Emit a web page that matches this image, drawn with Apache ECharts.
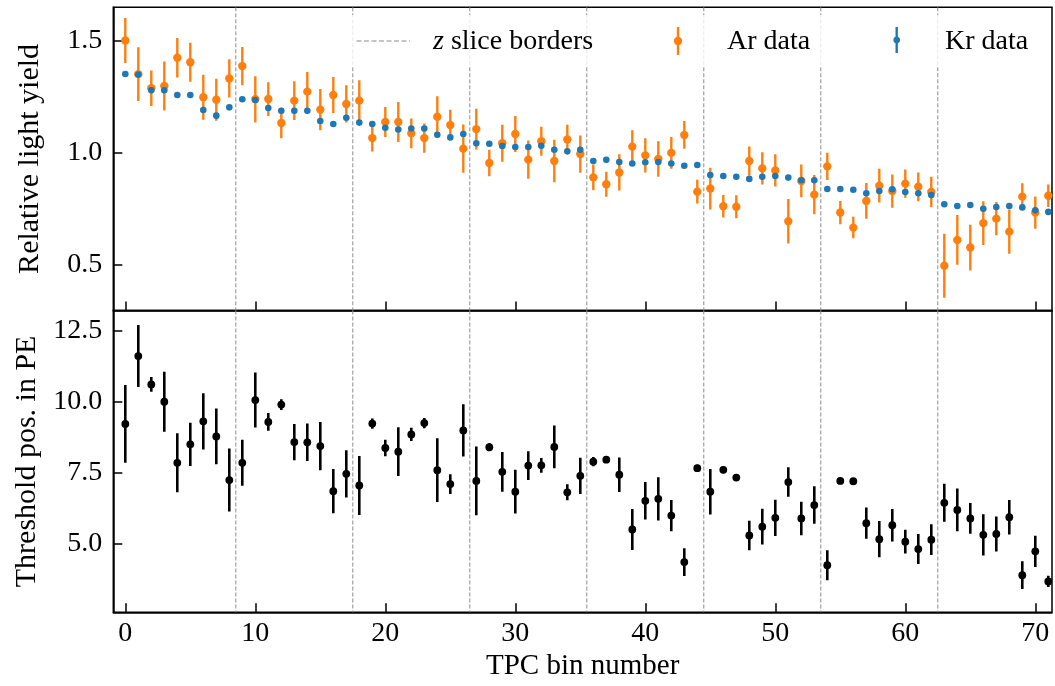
<!DOCTYPE html>
<html>
<head>
<meta charset="utf-8">
<script src="https://cdn.jsdelivr.net/npm/echarts@6/dist/echarts.min.js"></script>
<style>html,body{margin:0;padding:0;background:#fff}#c{width:1055px;height:686px}</style>
</head>
<body>
<div id="c"></div>
<script>
const bins = [0,1,2,3,4,5,6,7,8,9,10,11,12,13,14,15,16,17,18,19,20,21,22,23,24,25,26,27,28,29,30,31,32,33,34,35,
  36,37,38,39,40,41,42,43,44,45,46,47,48,49,50,51,52,53,54,55,56,57,58,59,60,61,62,63,64,65,66,67,68,69,70,71];
const sliceBorders = [8.5,17.5,26.5,35.5,44.5,53.5,62.5];
const xTicks = [0,10,20,30,40,50,60,70];
const topTicks = [0.5,1.0,1.5];
const bottomTicks = [5.0,7.5,10.0,12.5];

const arY = [1.50,1.35,1.287,1.297,1.423,1.403,1.247,1.236,1.331,1.386,
  1.238,1.239,1.132,1.232,1.272,1.192,1.257,1.217,1.232,1.065,
  1.137,1.137,1.086,1.065,1.160,1.123,1.018,1.105,0.954,1.042,
  1.083,0.969,1.051,0.963,1.059,0.994,0.890,0.859,0.912,1.027,
  0.988,0.972,0.999,1.079,0.826,0.840,0.761,0.759,0.963,0.930,
  0.921,0.694,0.874,0.813,0.939,0.733,0.666,0.785,0.853,0.829,
  0.862,0.848,0.825,0.496,0.611,0.577,0.686,0.706,0.648,0.804,
  0.733,0.808];
const arErr = [0.10,0.12,0.079,0.109,0.088,0.087,0.10,0.094,0.085,0.085,
  0.103,0.075,0.068,0.086,0.088,0.092,0.08,0.083,0.091,0.06,
  0.067,0.089,0.066,0.065,0.091,0.068,0.108,0.091,0.059,0.083,
  0.08,0.085,0.065,0.095,0.066,0.083,0.057,0.056,0.081,0.073,
  0.076,0.079,0.071,0.062,0.053,0.093,0.05,0.051,0.065,0.072,
  0.072,0.099,0.073,0.088,0.061,0.052,0.048,0.08,0.075,0.074,
  0.063,0.064,0.068,0.143,0.111,0.102,0.097,0.074,0.099,0.06,
  0.072,0.05];
const krY = [1.351,1.348,1.278,1.278,1.257,1.257,1.190,1.165,1.202,1.238,
  1.235,1.199,1.187,1.187,1.187,1.141,1.128,1.156,1.134,1.128,
  1.111,1.103,1.108,1.108,1.080,1.068,1.083,1.042,1.040,1.030,
  1.025,1.025,1.031,1.013,1.006,1.013,0.963,0.968,0.958,0.952,
  0.957,0.958,0.952,0.942,0.945,0.900,0.896,0.893,0.883,0.893,
  0.896,0.889,0.877,0.877,0.838,0.838,0.835,0.819,0.829,0.837,
  0.825,0.819,0.811,0.770,0.762,0.767,0.750,0.758,0.762,0.756,
  0.743,0.736];
const krErr = [0.006,0.006,0.006,0.006,0.006,0.006,0.006,0.006,0.006,0.006,
  0.006,0.006,0.006,0.006,0.006,0.006,0.006,0.006,0.006,0.006,
  0.006,0.006,0.006,0.006,0.006,0.006,0.006,0.006,0.006,0.006,
  0.006,0.006,0.006,0.006,0.006,0.006,0.006,0.006,0.006,0.006,
  0.006,0.006,0.006,0.006,0.006,0.006,0.006,0.006,0.006,0.006,
  0.006,0.006,0.006,0.006,0.006,0.006,0.006,0.006,0.006,0.006,
  0.006,0.006,0.006,0.006,0.006,0.006,0.006,0.006,0.006,0.006,
  0.006,0.006];
const thrY = [9.23,11.62,10.62,10.01,7.86,8.51,9.32,8.79,7.25,7.86,
  10.07,9.30,9.91,8.59,8.58,8.45,6.86,7.47,7.06,9.24,
  8.38,8.25,8.86,9.26,7.60,7.11,9.00,7.22,8.41,7.54,
  6.84,7.76,7.77,8.42,6.82,7.40,7.90,7.97,7.44,5.51,
  6.52,6.59,6.00,4.36,7.67,6.84,7.61,7.34,5.30,5.61,
  5.92,7.18,5.90,6.37,4.25,7.22,7.21,5.73,5.17,5.66,
  5.08,4.82,5.15,6.45,6.20,5.90,5.32,5.35,5.94,3.90,
  4.74,3.68];
const thrErr = [1.37,1.09,0.26,1.06,1.04,0.76,0.99,0.98,1.11,0.81,
  0.97,0.31,0.19,0.64,0.66,0.85,0.78,0.83,1.04,0.18,
  0.29,0.86,0.23,0.18,1.12,0.35,0.92,1.21,0.14,0.70,
  0.77,0.51,0.26,0.75,0.28,0.64,0.16,0.10,0.61,0.72,
  0.66,0.76,0.55,0.49,0.12,0.80,0.12,0.12,0.52,0.63,
  0.64,0.52,0.59,0.66,0.53,0.10,0.10,0.55,0.64,0.57,
  0.42,0.53,0.54,0.67,0.75,0.54,0.73,0.62,0.61,0.49,
  0.55,0.20];

const ORANGE = '#ff7f0e', BLUE = '#1f77b4', BLACK = '#000000', GREY = '#8c8c8c';
const FONT = "'Liberation Serif', 'DejaVu Serif', serif";

function errSeries(name, gi, vals, errs, color, r, lw, z) {
  return {
    type: 'custom', name: name, xAxisIndex: gi, yAxisIndex: gi, z: z, clip: true,
    data: vals.map((v, i) => [bins[i], v, errs[i]]),
    encode: { x: 0, y: 1 },
    renderItem: function (params, api) {
      const x = api.value(0), y = api.value(1), e = api.value(2);
      const p = api.coord([x, y]);
      const lo = api.coord([x, y - e]), hi = api.coord([x, y + e]);
      return { type: 'group', children: [
        { type: 'line', shape: { x1: lo[0], y1: lo[1], x2: hi[0], y2: hi[1] }, style: { stroke: color, lineWidth: lw } },
        { type: 'circle', shape: { cx: p[0], cy: p[1], r: r }, style: { fill: color } }
      ]};
    }
  };
}
function borderSeries(gi) {
  return {
    type: 'custom', name: 'z slice borders', xAxisIndex: gi, yAxisIndex: gi, z: 1, silent: true,
    data: sliceBorders.map(b => [b]),
    encode: { x: 0 },
    renderItem: function (params, api) {
      const cs = params.coordSys;
      const x = api.coord([api.value(0), 0])[0];
      return { type: 'line', shape: { x1: x, y1: cs.y, x2: x, y2: cs.y + cs.height },
        style: { stroke: GREY, lineWidth: 1, lineDash: [4, 2] } };
    }
  };
}
function xAxisDef(gi, showLabels) {
  return {
    type: 'value', gridIndex: gi, min: -0.923, max: 71.285,
    name: showLabels ? 'TPC bin number' : '', nameLocation: 'middle', nameGap: 40,
    nameTextStyle: { fontFamily: FONT, fontSize: 29, color: '#000' },
    axisLine: { show: true, onZero: false, lineStyle: { color: '#000', width: 1.5 } },
    axisTick: { show: true, inside: true, length: 9, customValues: xTicks, lineStyle: { color: '#000', width: 1.5 } },
    axisLabel: { show: showLabels, customValues: xTicks, margin: 7, fontFamily: FONT, fontSize: 28, color: '#000' },
    splitLine: { show: false }
  };
}
function yAxisDef(gi, min, max, ticks, name) {
  return {
    type: 'value', gridIndex: gi, min: min, max: max,
    name: name, nameLocation: 'middle', nameGap: 68, nameRotate: 90,
    nameTextStyle: { fontFamily: FONT, fontSize: 30, color: '#000' },
    axisLine: { show: true, onZero: false, lineStyle: { color: '#000', width: 1.5 } },
    axisTick: { show: true, inside: true, length: 9, customValues: ticks, lineStyle: { color: '#000', width: 1.5 } },
    axisLabel: { show: true, customValues: ticks, margin: 11, fontFamily: FONT, fontSize: 28, color: '#000',
      formatter: v => Number(v).toFixed(1) },
    splitLine: { show: false }
  };
}

const chart = echarts.init(document.getElementById('c'), null, { renderer: 'canvas' });
chart.setOption({
  backgroundColor: '#fff',
  animation: false,
  grid: [
    { left: 113.3, top: 7.3, width: 938.7, height: 303.2, show: true, borderColor: '#000', borderWidth: 1.5, backgroundColor: 'transparent' },
    { left: 113.3, top: 310.5, width: 938.7, height: 301.8, show: true, borderColor: '#000', borderWidth: 1.5, backgroundColor: 'transparent' }
  ],
  xAxis: [xAxisDef(0, false), xAxisDef(1, true)],
  yAxis: [
    yAxisDef(0, 0.2965, 1.648, topTicks, 'Relative light yield'),
    yAxisDef(1, 2.592, 13.225, bottomTicks, 'Threshold pos. in PE')
  ],
  series: [
    borderSeries(0),
    borderSeries(1),
    errSeries('Ar data', 0, arY, arErr, ORANGE, 4.2, 2.4, 3),
    errSeries('Kr data', 0, krY, krErr, BLUE, 3.3, 2.0, 4),
    errSeries('Threshold', 1, thrY, thrErr, BLACK, 3.9, 2.6, 3)
  ],
  graphic: [
    { type: 'rect', z: 50, silent: true, shape: { x: 343, y: 15, width: 703, height: 52 }, style: { fill: 'rgba(255,255,255,0.8)' } },
    { type: 'line', z: 51, silent: true, shape: { x1: 356.5, y1: 41, x2: 410, y2: 41 }, style: { stroke: GREY, lineWidth: 1.2, lineDash: [5, 2.5] } },
    { type: 'text', z: 51, silent: true, style: { x: 433, y: 42, text: '{i|z} slice borders', font: "28px 'Liberation Serif', serif", fill: '#000', verticalAlign: 'middle',
        rich: { i: { fontStyle: 'italic', fontFamily: 'Liberation Serif', fontSize: 28 } } } },
    { type: 'line', z: 51, silent: true, shape: { x1: 678, y1: 27, x2: 678, y2: 55 }, style: { stroke: ORANGE, lineWidth: 2.4 } },
    { type: 'circle', z: 52, silent: true, shape: { cx: 678, cy: 41, r: 4.2 }, style: { fill: ORANGE } },
    { type: 'text', z: 51, silent: true, style: { x: 727, y: 42, text: 'Ar data', font: "28px 'Liberation Serif', serif", fill: '#000', verticalAlign: 'middle' } },
    { type: 'line', z: 51, silent: true, shape: { x1: 896.7, y1: 27, x2: 896.7, y2: 53 }, style: { stroke: BLUE, lineWidth: 2.4 } },
    { type: 'circle', z: 52, silent: true, shape: { cx: 896.7, cy: 40, r: 3.3 }, style: { fill: BLUE } },
    { type: 'text', z: 51, silent: true, style: { x: 945, y: 42, text: 'Kr data', font: "28px 'Liberation Serif', serif", fill: '#000', verticalAlign: 'middle' } }
  ]
});
</script>
</body>
</html>
